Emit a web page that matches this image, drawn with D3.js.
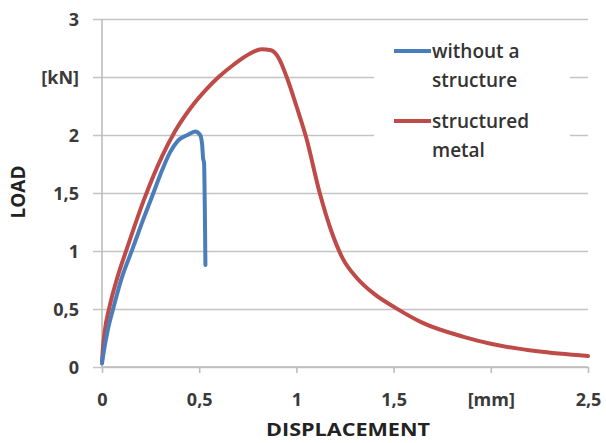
<!DOCTYPE html>
<html>
<head>
<meta charset="utf-8">
<script src="https://cdn.jsdelivr.net/npm/d3@7"></script>
<style>
  html, body { margin: 0; padding: 0; background: #fff; }
  svg text { font-family: "Open Sans", "Liberation Sans", sans-serif; fill: #333; }
</style>
</head>
<body>
<svg id="chart" width="606" height="443"></svg>
<script>
// ---- data ----
const xTicks = [0, 0.5, 1, 1.5, 2, 2.5];
const xTickLabels = ["0", "0,5", "1", "1,5", "[mm]", "2,5"];
const yTicks = [0, 0.5, 1, 1.5, 2, 2.5, 3];
const yTickLabels = ["0", "0,5", "1", "1,5", "2", "[kN]", "3"];

const seriesNames = ["without a structure", "structured metal"];

// without a structure: [displacement, load]
const plainX = [0.0, 0.006, 0.03, 0.057, 0.10, 0.155, 0.205, 0.26, 0.31, 0.35, 0.39, 0.44, 0.48, 0.505, 0.515, 0.52, 0.525, 0.53, 0.532];
const plainY = [0.03, 0.10, 0.32, 0.50, 0.76, 1.01, 1.24, 1.48, 1.70, 1.85, 1.95, 2.00, 2.03, 2.00, 1.92, 1.80, 1.76, 1.20, 0.88];

// structured metal
const structX = [0.0, 0.004, 0.015, 0.036, 0.077, 0.128, 0.22, 0.31, 0.375, 0.45, 0.54, 0.60, 0.68, 0.76, 0.82, 0.87, 0.91, 0.95, 1.0, 1.05, 1.12, 1.18, 1.24, 1.31, 1.40, 1.51, 1.65, 1.86, 2.0, 2.24, 2.5];
const structY = [0.05, 0.15, 0.32, 0.50, 0.76, 1.02, 1.46, 1.82, 2.03, 2.22, 2.40, 2.50, 2.61, 2.70, 2.74, 2.73, 2.66, 2.50, 2.25, 1.98, 1.50, 1.17, 0.93, 0.77, 0.63, 0.51, 0.38, 0.26, 0.20, 0.135, 0.095];

const colors = ["#4a7ebb", "#be4b48"];

// ---- chart ----
const svg = d3.select("#chart");
const m = { left: 102, right: 18, top: 19, bottom: 76 };
const W = 606, H = 443;
const x = d3.scaleLinear().domain([0, 2.5]).range([m.left, W - m.right]);
const y = d3.scaleLinear().domain([0, 3]).range([H - m.bottom, m.top]);

const tickFont = "18px";

// gridlines + y axis ticks
const yAxis = d3.axisLeft(y).tickValues(yTicks)
  .tickSize(-(x.range()[1] - x.range()[0]))
  .tickFormat((d, i) => yTickLabels[i]);
const gy = svg.append("g").attr("transform", `translate(${m.left},0)`).call(yAxis);
gy.select(".domain").remove();
gy.selectAll(".tick line").attr("stroke", "#c4c4c4").attr("stroke-width", 1.6).attr("x1", -9);
gy.selectAll(".tick text").attr("x", -23).attr("dy", "0.36em")
  .style("font-size", tickFont).style("font-weight", 700).style("fill", "#3a3a3a");

// y axis line
svg.append("line").attr("x1", m.left).attr("x2", m.left)
  .attr("y1", y(3)).attr("y2", y(0)).attr("stroke", "#bdbdbd").attr("stroke-width", 1.6);

// x axis
const xAxis = d3.axisBottom(x).tickValues(xTicks).tickSize(6)
  .tickFormat((d, i) => xTickLabels[i]);
const gx = svg.append("g").attr("transform", `translate(0,${y(0)})`).call(xAxis);
gx.select(".domain").attr("stroke", "#bdbdbd").attr("stroke-width", 1.6).attr("d", `M${x(0)},0H${x(2.5)}`);
gx.selectAll(".tick line").attr("stroke", "#bdbdbd").attr("stroke-width", 1.6);
gx.selectAll(".tick text").attr("y", 33).attr("dy", "0.36em")
  .style("font-size", tickFont).style("font-weight", 700).style("fill", "#3a3a3a");

// axis titles
svg.append("text").attr("x", 348).attr("y", 430).attr("dy", "0.36em").attr("text-anchor", "middle")
  .attr("textLength", 164).attr("lengthAdjust", "spacingAndGlyphs")
  .style("font-size", "18px").style("font-weight", 700).style("fill", "#222").text("DISPLACEMENT");
svg.append("text").attr("transform", "translate(18,192) rotate(-90)").attr("dy", "0.36em").attr("text-anchor", "middle")
  .style("font-size", "19px").style("font-weight", 700).style("fill", "#222").text("LOAD");

// lines
const line = d3.line().x(d => x(d[0])).y(d => y(d[1])).curve(d3.curveMonotoneX);
const plain = plainX.map((v, i) => [v, plainY[i]]);
const struct = structX.map((v, i) => [v, structY[i]]);
svg.append("path").datum(struct).attr("d", line).attr("fill", "none")
  .attr("stroke", colors[1]).attr("stroke-width", 4).attr("stroke-linejoin", "round").attr("stroke-linecap", "round");
svg.append("path").datum(plain).attr("d", line).attr("fill", "none")
  .attr("stroke", colors[0]).attr("stroke-width", 4).attr("stroke-linejoin", "round").attr("stroke-linecap", "round");

// legend
const lg = svg.append("g");
lg.append("rect").attr("x", 374).attr("y", 30).attr("width", 196).attr("height", 140).attr("fill", "#fff");
const legendRows = [
  { lines: ["without a", "structure"], y: 51, c: colors[0] },
  { lines: ["structured", "metal"], y: 121, c: colors[1] }
];
legendRows.forEach(r => {
  lg.append("line").attr("x1", 394).attr("x2", 431).attr("y1", r.y).attr("y2", r.y)
    .attr("stroke", r.c).attr("stroke-width", 4);
  r.lines.forEach((t, k) => {
    lg.append("text").attr("x", 432).attr("y", r.y + k * 29).attr("dy", "0.35em")
      .style("font-size", "19px").style("font-weight", 600).style("fill", "#333").text(t);
  });
});
</script>
</body>
</html>
